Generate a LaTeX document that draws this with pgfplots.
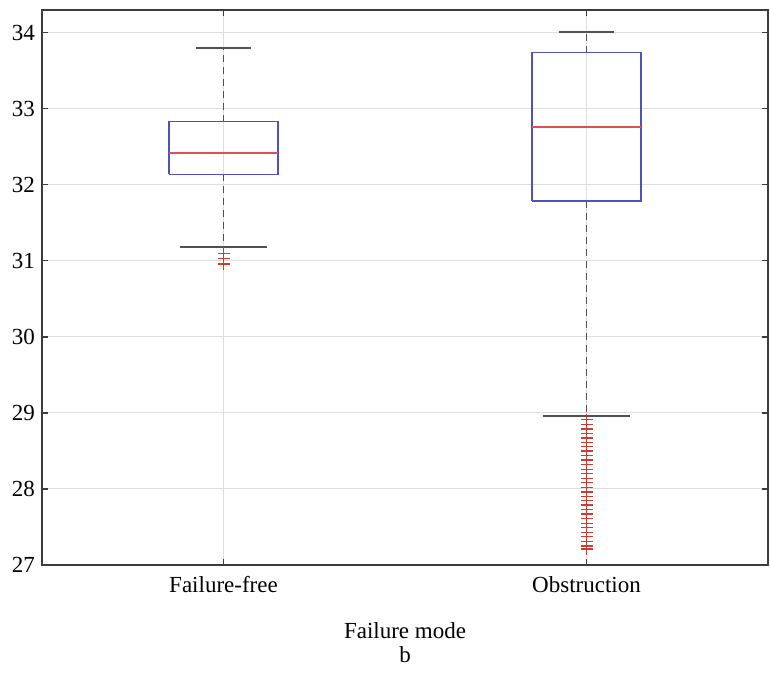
\documentclass[border=0pt]{standalone}
\usepackage{pgfplots}
\pgfplotsset{compat=1.18}
\usepackage{fontspec}
\setmainfont{Liberation Serif}
\definecolor{boxblue}{RGB}{80,80,190}
\definecolor{medred}{RGB}{225,80,80}
\definecolor{outred}{RGB}{205,60,50}
\definecolor{whisk}{RGB}{80,80,80}
\definecolor{gridc}{RGB}{222,222,222}
\definecolor{framec}{RGB}{60,60,60}
\begin{document}
\begin{tikzpicture}
\useasboundingbox (-21pt,-57.5pt) rectangle (364pt,282.5pt);
\begin{axis}[
  scale only axis, width=363pt, height=277.5pt,
  xmin=0.5, xmax=2.5, ymin=27, ymax=34.3,
  xtick={1,2}, xticklabels={Failure-free,Obstruction},
  ytick={27,28,29,30,31,32,33,34},
  tick align=inside, tick style={framec, line width=0.6pt},
  major tick length=3pt,
  axis line style={framec, line width=0.6pt},
  grid=major, major grid style={gridc, line width=0.5pt},
  font=\fontsize{11.5}{14}\selectfont,
  /pgf/number format/assume math mode=true,
  xlabel={Failure mode},
  xlabel style={yshift=-8pt},
  xticklabel style={yshift=-2pt},
  clip=false,
]
% whiskers (dashed)
\addplot[whisk, line width=0.9pt, dash pattern=on 3.5pt off 2.5pt] coordinates {(1,32.83) (1,33.80)};
\addplot[whisk, line width=0.9pt, dash pattern=on 3.5pt off 2.5pt] coordinates {(1,32.14) (1,31.18)};
\addplot[whisk, line width=0.9pt, dash pattern=on 3.5pt off 2.5pt] coordinates {(2,33.74) (2,34.01)};
\addplot[whisk, line width=0.9pt, dash pattern=on 3.5pt off 2.5pt] coordinates {(2,31.79) (2,28.96)};
% boxes
\addplot[boxblue, line width=0.7pt] coordinates {(0.85,32.14) (1.15,32.14) (1.15,32.83) (0.85,32.83) (0.85,32.14)};
\addplot[boxblue, line width=0.7pt] coordinates {(1.85,31.79) (2.15,31.79) (2.15,33.74) (1.85,33.74) (1.85,31.79)};
% medians
\addplot[medred, line width=0.7pt] coordinates {(0.85,32.42) (1.15,32.42)};
\addplot[medred, line width=0.7pt] coordinates {(1.85,32.76) (2.15,32.76)};
% whisker caps
\addplot[whisk, line width=0.9pt] coordinates {(0.925,33.80) (1.075,33.80)};
\addplot[whisk, line width=0.9pt] coordinates {(0.88,31.18) (1.12,31.18)};
\addplot[whisk, line width=0.9pt] coordinates {(1.925,34.01) (2.075,34.01)};
\addplot[whisk, line width=0.9pt] coordinates {(1.88,28.96) (2.12,28.96)};
% outliers
\addplot[only marks, mark=+, mark size=3pt, outred, mark options={line width=0.6pt}]
  coordinates {(1,31.10) (1,31.03) (1,30.96)};
\addplot[only marks, mark=+, mark size=3pt, outred, mark options={line width=0.6pt}]
  coordinates {(2,28.91) (2,28.85) (2,28.79) (2,28.73) (2,28.67) (2,28.61) (2,28.56)
   (2,28.50) (2,28.44) (2,28.38) (2,28.32) (2,28.26) (2,28.20) (2,28.14) (2,28.08)
   (2,28.02) (2,27.96) (2,27.90) (2,27.85) (2,27.79) (2,27.73) (2,27.67) (2,27.61)
   (2,27.55) (2,27.49) (2,27.43) (2,27.37) (2,27.31) (2,27.25) (2,27.21)};
\node[font=\fontsize{11.5}{14}\selectfont] at (rel axis cs:0.5,0) [yshift=-45pt] {b};
\end{axis}
\end{tikzpicture}
\end{document}
